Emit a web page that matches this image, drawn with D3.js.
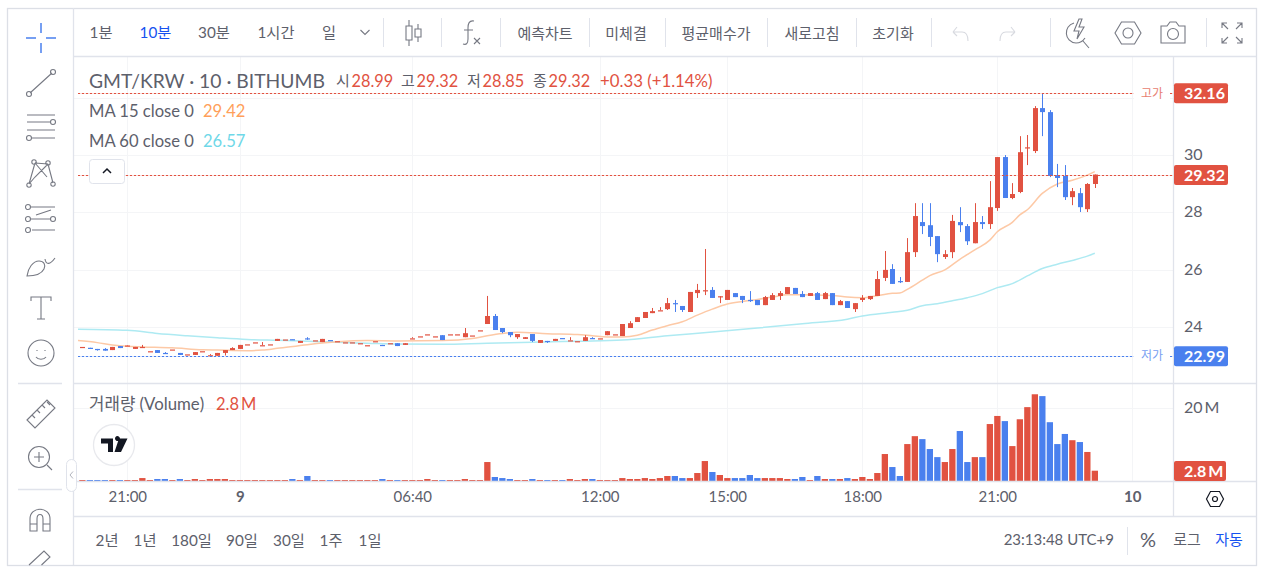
<!DOCTYPE html>
<html lang="ko">
<head>
<meta charset="UTF-8">
<title>GMT/KRW</title>
<script src="https://d3js.org/d3.v7.min.js"></script>
<style>
    html, body { margin: 0; background: #fff; overflow: hidden; }
    svg { display: block; }
    text { font-family: Lato, "Noto Sans CJK KR", sans-serif; fill: #5d606b; }
    .icon { fill: none; stroke: #767983; stroke-width: 1.1; }
</style>
</head>
<body>
<svg id="chart" width="1264" height="572"></svg>
<script>
// candles, oldest first (10 minute bars)
const opens = [
23.29,23.27,23.23,23.23,23.19,23.33,23.33,23.23,23.28,23.15,
23.19,23.09,23.21,23.09,23.04,23.02,23.15,23.01,22.99,23.09,
23.19,23.23,23.39,23.46,23.36,23.39,23.51,23.56,23.57,23.44,
23.60,23.53,23.47,23.54,23.50,23.46,23.46,23.43,23.36,23.50,
23.37,23.43,23.43,23.37,23.60,23.67,23.74,23.67,23.71,23.74,
23.74,23.64,23.70,23.88,24.10,24.38,23.96,23.82,23.64,23.58,
23.75,23.44,23.51,23.51,23.61,23.53,23.50,23.51,23.61,23.60,
23.71,23.74,23.68,23.96,24.17,24.31,24.48,24.58,24.62,24.83,
24.73,24.52,25.18,25.28,25.29,25.07,24.94,25.18,25.08,24.94,
24.94,24.76,24.94,25.08,25.15,25.36,25.15,25.08,25.18,24.97,
25.18,24.76,24.90,24.62,24.94,24.97,25.08,25.71,26.02,25.60,
25.57,26.61,27.66,27.55,27.17,26.44,26.61,27.66,27.52,26.92,
27.66,27.59,28.15,29.93,28.50,28.71,30.27,30.14,31.64,31.50,
29.30,29.27,28.53,28.67,28.11,28.99];
const highs = [
23.29,23.27,23.23,23.26,23.30,23.33,23.35,23.30,23.37,23.15,
23.19,23.12,23.21,23.09,23.04,23.12,23.15,23.05,23.09,23.19,
23.29,23.37,23.39,23.46,23.47,23.39,23.58,23.56,23.57,23.51,
23.64,23.53,23.58,23.54,23.50,23.46,23.46,23.43,23.36,23.50,
23.37,23.43,23.43,23.43,23.64,23.67,23.74,23.67,23.71,23.74,
23.74,23.96,23.70,23.88,25.08,24.45,23.96,23.82,23.75,23.64,
23.75,23.54,23.51,23.58,23.61,23.64,23.50,23.71,23.64,23.60,
23.85,23.74,24.10,24.20,24.34,24.52,24.66,24.69,25.01,24.94,
24.73,25.22,25.50,26.72,25.39,25.07,25.29,25.18,25.08,25.25,
24.94,25.08,25.18,25.25,25.39,25.36,25.25,25.18,25.22,25.22,
25.18,24.94,24.90,24.83,25.11,25.08,25.95,26.65,26.19,25.74,
27.10,28.32,28.32,28.32,27.17,26.68,27.91,28.18,27.59,28.32,
27.87,29.09,29.93,30.00,29.02,30.66,30.70,31.71,32.16,31.57,
29.69,29.65,28.85,28.85,29.02,29.32];
const lows = [
23.29,23.26,23.17,23.17,23.19,23.26,23.33,23.23,23.28,23.15,
23.09,23.07,23.21,23.02,23.04,23.02,23.15,23.01,22.99,23.00,
23.19,23.23,23.39,23.46,23.36,23.39,23.51,23.56,23.56,23.44,
23.55,23.53,23.47,23.53,23.50,23.46,23.46,23.43,23.36,23.50,
23.36,23.43,23.33,23.37,23.60,23.67,23.74,23.67,23.54,23.74,
23.74,23.64,23.70,23.88,24.10,23.89,23.78,23.64,23.58,23.58,
23.47,23.44,23.44,23.51,23.60,23.53,23.50,23.51,23.58,23.60,
23.71,23.74,23.68,23.96,24.17,24.31,24.48,24.58,24.59,24.52,
24.52,24.52,25.01,25.11,25.01,24.83,24.94,25.04,24.83,24.87,
24.76,24.76,24.94,24.94,25.15,25.15,25.04,25.08,24.94,24.97,
24.76,24.76,24.66,24.52,24.87,24.94,25.08,25.60,25.50,25.53,
25.57,26.44,27.24,26.82,26.26,26.37,26.40,27.31,26.86,26.92,
27.42,27.42,28.05,28.50,28.46,28.67,29.65,30.07,30.66,29.23,
28.88,28.43,28.25,28.01,28.01,28.85];
const closes = [
23.30,23.26,23.22,23.17,23.30,23.26,23.35,23.30,23.30,23.15,
23.09,23.07,23.21,23.02,23.04,23.12,23.15,23.01,23.09,23.19,
23.26,23.37,23.39,23.46,23.36,23.39,23.58,23.56,23.56,23.51,
23.59,23.53,23.58,23.53,23.50,23.46,23.46,23.43,23.36,23.50,
23.36,23.43,23.33,23.43,23.60,23.67,23.74,23.67,23.54,23.74,
23.74,23.78,23.70,23.88,24.38,23.89,23.82,23.71,23.75,23.64,
23.51,23.54,23.47,23.58,23.60,23.53,23.50,23.64,23.60,23.60,
23.85,23.74,24.10,24.13,24.34,24.52,24.55,24.58,24.83,24.82,
24.59,25.22,25.29,25.28,25.01,25.07,25.29,25.04,24.94,24.93,
24.76,25.04,25.11,25.18,25.39,25.15,25.04,25.18,24.94,25.18,
24.76,24.90,24.66,24.83,25.01,25.08,25.67,25.99,25.50,25.56,
26.61,27.87,27.52,27.14,26.54,26.54,27.70,27.55,26.99,27.66,
27.59,28.18,29.93,28.50,28.64,30.10,30.27,31.64,31.50,29.27,
29.20,28.53,28.74,28.18,28.99,29.32];
// volume in millions
const volumes = [
0.27,0.27,0.27,0.27,0.27,0.27,0.27,0.27,0.8,0.27,
0.54,0.54,0.27,0.54,0.27,0.54,0.27,0.54,0.54,0.54,
0.27,0.27,0.27,0.27,0.27,0.27,0.27,0.27,0.54,0.27,
1.36,0.27,0.27,0.27,0.27,0.27,0.27,0.27,0.27,0.27,
0.54,0.27,0.27,0.27,0.27,0.27,0.54,0.27,0.27,0.27,
0.27,0.54,0.27,0.27,5.16,1.09,0.8,0.54,0.27,0.27,
0.54,0.27,0.27,0.27,0.27,0.54,0.27,0.54,0.54,0.27,
0.27,0.27,0.8,0.54,0.54,0.8,0.54,0.8,1.36,1.36,
0.8,0.8,2.17,5.43,2.45,1.63,0.8,0.8,0.8,1.63,
0.8,0.8,0.8,0.8,0.54,0.54,1.09,0.27,1.36,0.54,
0.54,0.54,0.8,0.54,1.09,0.54,2.17,7.34,3.8,1.36,
10.05,12.2,11.4,8.7,6.5,5.16,8.7,13.6,5.16,6.5,
6.5,15.5,17.7,16.3,9.5,16.8,20.1,23.6,23.1,16.0,
10.05,12.8,11.1,10.6,7.9,2.8];

// moving averages at these bars
const ma15Bars = [-1,2,4,6,8,12,16,18,22,24,26,30,34,38,42,48,52,54,56,58,62,66,68,70,72,74,76,78,80,82,84,86,88,90,92,94,96,98,100,102,104,106,108,109,110,112,113,115,117,119,121,122,124,125,126,128,130,132,134,135];
const ma15 = [23.53,23.45,23.37,23.32,23.30,23.27,23.20,23.19,23.17,23.19,23.25,23.38,23.48,23.52,23.51,23.52,23.59,23.69,23.77,23.81,23.76,23.73,23.69,23.65,23.65,23.71,23.89,24.04,24.18,24.41,24.62,24.80,24.89,24.96,25.04,25.12,25.12,25.11,25.10,25.04,25.02,25.09,25.17,25.18,25.31,25.63,25.79,25.99,26.36,26.69,27.03,27.32,27.65,27.91,28.09,28.66,28.99,29.12,29.30,29.42];
const ma60Bars = [-1,6,10,14,18,22,26,30,34,38,42,48,54,60,66,72,78,84,90,96,102,104,108,110,112,114,116,118,120,122,124,126,128,130,132,134,135];
const ma60 = [23.92,23.88,23.77,23.69,23.62,23.56,23.53,23.50,23.46,23.43,23.40,23.39,23.43,23.46,23.50,23.54,23.69,23.82,23.96,24.11,24.27,24.38,24.51,24.58,24.74,24.81,24.91,25.02,25.16,25.37,25.51,25.78,26.04,26.19,26.32,26.47,26.57];

const priceTicks = [30, 28, 26, 24];
const priceGrid = [32, 30, 28, 26, 24];
const timeTickBars = [6, 21, 44, 69, 86, 104, 122, 140];
const timeTickLabels = ["21:00", "9", "06:40", "12:00", "15:00", "18:00", "21:00", "10"];
const boldTimeLabels = ["9", "10"];
const volumeTicks = [20];

const highPrice = 32.16, lowPrice = 22.99, lastPrice = 29.32, lastVolume = 2.8;

const resolutions = ["1분", "10분", "30분", "1시간", "일"];
const ranges = ["2년", "1년", "180일", "90일", "30일", "1주", "1일"];

const red = "#e15241", blue = "#4a80ee", gray = "#5d606b", line = "#e0e3eb", active = "#1652f0";

const svg = d3.select("#chart");

const x = d3.scaleLinear().domain([0, 135]).range([82.3, 1094.8]);
const y = d3.scaleLinear().domain([lowPrice, highPrice]).range([355.8, 93.2]);
const yVol = d3.scaleLinear().domain([0, 20]).range([481, 407.5]);

const colorOf = i => closes[i] >= opens[i] ? red : blue;

svg.append("clipPath").attr("id", "pane").append("rect")
    .attr("x", 78).attr("y", 57).attr("width", 1095).attr("height", 326);

// grid
const grid = svg.append("g").attr("stroke", "#f4f5f7").attr("stroke-width", 1);
grid.selectAll(".v").data(timeTickBars).enter().append("line")
    .attr("x1", d => Math.round(x(d)) + 0.5).attr("x2", d => Math.round(x(d)) + 0.5)
    .attr("y1", 57).attr("y2", 481);
grid.selectAll(".h").data(priceGrid).enter().append("line")
    .attr("x1", 74).attr("x2", 1173)
    .attr("y1", d => Math.round(y(d)) + 0.5).attr("y2", d => Math.round(y(d)) + 0.5);
grid.selectAll(".hv").data(volumeTicks).enter().append("line")
    .attr("x1", 74).attr("x2", 1173)
    .attr("y1", d => Math.round(yVol(d)) + 0.5).attr("y2", d => Math.round(yVol(d)) + 0.5);

// moving averages
const maLine = d3.line().x(d => x(d[0])).y(d => y(d[1])).curve(d3.curveMonotoneX);
const plot = svg.append("g").attr("clip-path", "url(#pane)");
plot.append("path").attr("d", maLine(d3.zip(ma60Bars, ma60)))
    .attr("fill", "none").attr("stroke", "#aeeaf2").attr("stroke-width", 1.5);
plot.append("path").attr("d", maLine(d3.zip(ma15Bars, ma15)))
    .attr("fill", "none").attr("stroke", "#fdc9a6").attr("stroke-width", 1.5);

// candles
const candles = plot.selectAll(".candle").data(d3.range(opens.length)).enter().append("g");
candles.append("line")
    .attr("x1", i => Math.round(x(i)) + 0.5).attr("x2", i => Math.round(x(i)) + 0.5)
    .attr("y1", i => y(highs[i])).attr("y2", i => y(lows[i]))
    .attr("stroke", colorOf);
candles.append("rect")
    .attr("x", i => Math.round(x(i)) - 2)
    .attr("width", 5)
    .attr("y", i => y(Math.max(opens[i], closes[i])))
    .attr("height", i => Math.max(1.2, Math.abs(y(opens[i]) - y(closes[i]))))
    .attr("fill", colorOf);

// volume bars
svg.selectAll(".vol").data(volumes).enter().append("rect")
    .attr("x", (d, i) => x(i) - 3.1)
    .attr("width", 6.3)
    .attr("y", d => yVol(d))
    .attr("height", d => yVol(0) - yVol(d))
    .attr("fill", (d, i) => colorOf(i));

// high, low and last price lines: dots over a faint solid line
function priceLine(value, color) {
    const py = Math.round(y(value)) + 0.5;
    svg.append("line").attr("x1", 78).attr("x2", 1173).attr("y1", py).attr("y2", py)
        .attr("stroke", color).attr("stroke-opacity", 0.2);
    svg.append("line").attr("x1", 78).attr("x2", 1173).attr("y1", py).attr("y2", py)
        .attr("stroke", color).attr("stroke-dasharray", "2 2");
}
priceLine(highPrice, red);
priceLine(lowPrice, blue);
priceLine(lastPrice, red);

function priceNote(value, label, color) {
    svg.append("rect").attr("x", 1134).attr("y", y(value) - 8).attr("width", 36).attr("height", 16).attr("fill", "#fff");
    svg.append("text").attr("x", 1152).attr("y", y(value)).attr("dy", "0.36em")
        .attr("text-anchor", "middle").style("font-size", "12px").style("fill", color).attr("opacity", 0.75).text(label);
}
priceNote(highPrice, "고가", red);
priceNote(lowPrice, "저가", blue);

// frame
const frame = svg.append("g").attr("stroke", line).attr("stroke-width", 1.3).attr("fill", "none");
frame.append("rect").attr("x", 7.5).attr("y", 8.5).attr("width", 1249).attr("height", 557).attr("stroke", "#dcdfe6");
[[73.5, 8, 73.5, 565], [1173.5, 57, 1173.5, 516], [74, 56.5, 1256, 56.5], [74, 383.5, 1256, 383.5],
 [74, 481.5, 1256, 481.5], [74, 516.5, 1256, 516.5], [18, 383.5, 62, 383.5], [18, 489.5, 62, 489.5]]
    .forEach(s => frame.append("line").attr("x1", s[0]).attr("y1", s[1]).attr("x2", s[2]).attr("y2", s[3]));

// axes
const yAxis = svg.append("g").attr("transform", "translate(1184,-0.6)")
    .call(d3.axisRight(y).tickValues(priceTicks).tickSize(0).tickPadding(0).tickFormat(d3.format("d")));
yAxis.select(".domain").remove();
yAxis.selectAll("text").style("font-size", "16px").style("fill", gray);

const volAxis = svg.append("g").attr("transform", "translate(1184,0)")
    .call(d3.axisRight(yVol).tickValues(volumeTicks).tickSize(0).tickPadding(0).tickFormat(d => d + "\u2009M"));
volAxis.select(".domain").remove();
volAxis.selectAll("text").style("font-size", "16px").style("fill", gray);

const xAxis = svg.append("g").attr("transform", "translate(0,491)")
    .call(d3.axisBottom(x).tickValues(timeTickBars).tickSize(0).tickPadding(0)
        .tickFormat((d, i) => timeTickLabels[i]));
xAxis.select(".domain").remove();
xAxis.selectAll("text").style("font-size", "15px").style("fill", gray)
    .style("font-weight", (d, i) => boldTimeLabels.includes(timeTickLabels[i]) ? 700 : 400);

// price tags on the axis
function tag(yMid, w, label, color) {
    svg.append("rect").attr("x", 1174).attr("y", yMid - 10).attr("width", w).attr("height", 20).attr("rx", 2).attr("fill", color);
    svg.append("text").attr("x", 1184).attr("y", yMid).attr("dy", "0.36em")
        .style("font-size", "16px").style("font-weight", 700).style("fill", "#fff").text(label);
}
tag(y(highPrice), 54, highPrice.toFixed(2), red);
tag(y(lastPrice) + 0.5, 54, lastPrice.toFixed(2), red);
tag(y(lowPrice) + 0.5, 54, lowPrice.toFixed(2), blue);
tag(yVol(lastVolume) + 0.4, 52, lastVolume + "\u2009M", red);

// legend
function label(px, py, str, size, color, anchor) {
    return svg.append("text").attr("x", px).attr("y", py).attr("dy", "0.36em")
        .attr("text-anchor", anchor || "start").style("font-size", size + "px").style("fill", color).text(str);
}
label(89, 81, "GMT/KRW · 10 · BITHUMB", 19.3, gray);
[[336, "시", "28.99"], [401, "고", "29.32"], [467, "저", "28.85"], [533, "종", "29.32"]].forEach(d => {
    label(d[0], 81, d[1], 15, gray);
    label(d[0] + 15.5, 81, d[2], 16.3, red);
});
label(600, 81, "+0.33 (+1.14%)", 16.8, red);
label(89, 111, "MA 15 close 0", 16.6, gray);
label(203, 111, "29.42", 16.6, "#ff9f5a");
label(89, 141, "MA 60 close 0", 16.6, gray);
label(203, 141, "26.57", 16.6, "#6fd8e8");
label(89, 404, "거래량 (Volume)", 16.8, gray);
label(216, 404, "2.8\u2009M", 16.5, red);

// top toolbar
const resX = [101, 155.5, 214, 276, 329];
resolutions.forEach((r, i) => label(resX[i], 32, r, 15.3, r === "10분" ? active : gray, "middle"));
[[545, "예측차트"], [626, "미체결"], [716, "평균매수가"], [812, "새로고침"], [893, "초기화"]]
    .forEach(d => label(d[0], 33.5, d[1], 15, gray, "middle"));
[383, 441, 500, 589, 665, 767, 856, 931, 1050, 1206].forEach(px =>
    svg.append("line").attr("x1", px + 0.5).attr("x2", px + 0.5).attr("y1", 18).attr("y2", 47).attr("stroke", line));
// bottom bar
const rangeX = [107, 145, 191.5, 242, 289, 331, 370];
ranges.forEach((r, i) => label(rangeX[i], 540, r, 15.3, gray, "middle"));
label(1114, 540, "23:13:48 UTC+9", 15, gray, "end");
svg.append("line").attr("x1", 1127.5).attr("x2", 1127.5).attr("y1", 527).attr("y2", 555).attr("stroke", line);
label(1148, 540, "%", 20, gray, "middle");
label(1187, 540, "로그", 15, gray, "middle");
label(1229, 540, "자동", 15, active, "middle");

// icons
function icon(px, py, d, attrs) {
    const p = svg.append("path").attr("class", "icon").attr("transform", `translate(${px},${py})`).attr("d", d);
    Object.entries(attrs || {}).forEach(e => p.style(e[0], e[1]));
    return p;
}
const circle = (cx, cy, r) => `M${cx - r},${cy}a${r},${r} 0 1,0 ${2 * r},0a${r},${r} 0 1,0 ${-2 * r},0`;

// left toolbar
icon(41, 38, "M0,-15V-5M0,5V15M-15,0H-5M5,0H15", { stroke: "#4a80ee", "stroke-width": 1.5 });
icon(41, 83, "M-11,10L11,-10" + circle(-12, 11, 2.5) + circle(12, -11, 2.5));
icon(41, 128, "M-14,-13H14M-14,-6H10M-14,2H14M-9,10H14" + circle(12, -6, 2.5) + circle(-12, 10, 2.5));
icon(41, 173, "M-6,-10L-12,11M-6,-10L6,4M7,-9L12,10M7,-9L-6,4L-12,11M-6,-10L7,-9" + circle(-7, -11, 2.2) + circle(7, -10, 2.2) + circle(-12, 12, 2.2) + circle(12, 11, 2.2));
icon(41, 218, "M-10,-11H14M-10,1H10M-9,12H14M-5,-3L10,-8" + circle(-13, -11, 2.5) + circle(-13, 1, 2.5) + circle(12, 1, 2.5) + circle(-13, 12, 2.5));
icon(41, 265, "M-14,11C-13,3 -8,-4 -2,-4C3,-4 5,0 3,4C0,10 -8,11 -14,11ZM4,-6C5,0 9,0 14,-7");
icon(41, 308, "M-10,-7V-11H10V-7M0,-11V11M-4,11H4");
icon(41, 353, circle(0, 0, 13) + "M-5,4C-3,7 3,7 5,4M-4,-3V-2M4,-3V-2");
icon(41, 414, "M-14,6L6,-14L14,-6L-6,14ZM-9,1L-6,4M-4,-4L-1,-1M1,-9L4,-6M6,-12L9,-9");
icon(39, 457, circle(0, 0, 10.5) + "M-5,0H5M0,-5V5M8,8L13,13");
icon(40, 520, "M-10,11V-1C-10,-14 10,-14 10,-1V11H3V-1C3,-7 -3,-7 -3,-1V11ZM-10,4H-3M3,4H10");
icon(40, 566, "M-11,-1L4,-15L10,-9L1.5,-1");

// top toolbar icons
icon(409, 33, "M-3,-7H3V7H-3ZM0,-13V-7M0,7V13", { "stroke-width": 1.1 });
icon(418, 33, "M-3,-4H3V4H-3ZM0,-9V-4M0,4V9", { "stroke-width": 1.1 });
icon(470, 33, "M4,-12C-1,-13 -2,-9 -2,-5V6C-2,11 -4,12 -7,11M-6,-3H3M4,5L10,11M10,5L4,11");
icon(365, 32, "M-4.5,-2L0,2.5L4.5,-2");
icon(960, 33, "M-7,-1L-3,-6M-7,-1L-3,3M-7,-1H2C7,-1 8,3 8,8", { stroke: "#d8dae0" });
icon(1008, 33, "M7,-1L3,-6M7,-1L3,3M7,-1H-2C-7,-1 -8,3 -8,8", { stroke: "#d8dae0" });
icon(1077, 33, "M-3,-10C-14,-7 -13,9 -1,10C3,10 6,8 8,5M2,-14L-3,-2H2L0,6L7,-6H2L5,-14ZM6,8L12,15");
icon(1128, 33, "M-6.5,-11L6.5,-11L13,0L6.5,11L-6.5,11L-13,0Z" + circle(0, 0, 5));
icon(1173, 33, "M-12,-7H-6L-3,-11H3L6,-7H12V10H-12Z" + circle(0, 1, 5.5));
icon(1232, 33, "M-10,-5V-10H-5M-10,-10L-4,-4M5,-10H10V-5M10,-10L4,-4M-10,5V10H-5M-10,10L-4,4M5,10H10V5M10,10L4,4");

// bottom-right settings hexagon
icon(1215, 499, "M-4.5,-7.5H4.5L8.5,0L4.5,7.5H-4.5L-8.5,0Z" + circle(0, 0, 2.5), { stroke: "#131722", "stroke-width": 1.2 });

// legend collapse button
svg.append("rect").attr("x", 89.5).attr("y", 159.5).attr("width", 35).attr("height", 24).attr("rx", 3).attr("fill", "#fff").attr("stroke", "#e0e3eb");
icon(107, 171, "M-4,2L0,-2L4,2", { stroke: "#131722", "stroke-width": 1.5 });

// sidebar collapse handle
svg.append("rect").attr("x", 66.5).attr("y", 459.5).attr("width", 10).attr("height", 32).attr("rx", 5).attr("fill", "#fff").attr("stroke", "#e0e3eb");
icon(71.5, 475, "M1.5,-3.5L-1.5,0L1.5,3.5", { stroke: "#b2b5be", "stroke-width": 1 });

// TradingView badge
svg.append("circle").attr("cx", 114).attr("cy", 445).attr("r", 20.5).attr("fill", "#fff").attr("stroke", "#e8e9ed").attr("stroke-width", 1.3);
svg.append("path").attr("transform", "translate(114,445)")
    .attr("d", "M-13,-6.5H-1V7H-6V-1.5H-13ZM1,-6.5A2.5,2.5 0 1,1 1,-6.4M5,-6.5H13.5L7,7H0.5Z").attr("fill", "#131722");
</script>
</body>
</html>
